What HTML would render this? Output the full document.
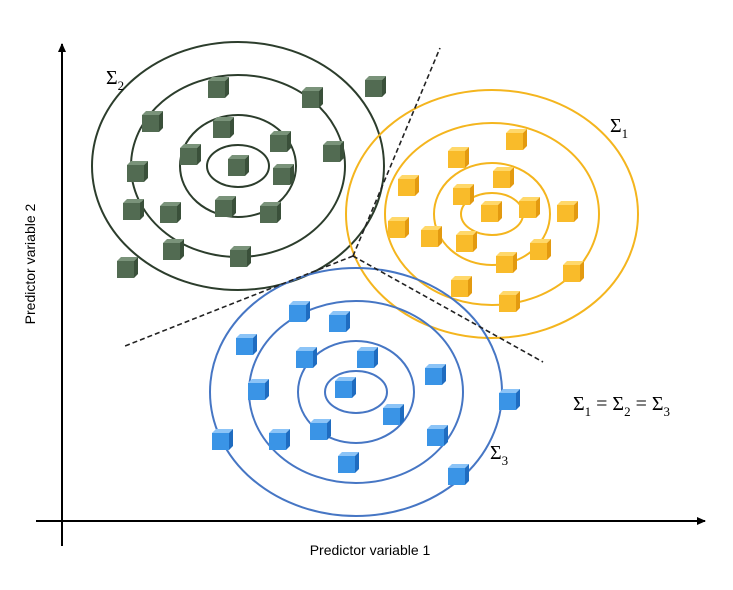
<!DOCTYPE html>
<html><head><meta charset="utf-8"><style>
body{margin:0;background:#fff;width:733px;height:590px;overflow:hidden}
svg{display:block}
text{font-family:"Liberation Serif",serif}
</style></head><body>
<svg id="chart" width="733" height="590" viewBox="0 0 733 590">
<defs>
<marker id="arr" markerWidth="10" markerHeight="10" refX="8" refY="5" orient="auto" markerUnits="userSpaceOnUse"><path d="M0,1 L9,5 L0,9 Z" fill="#000"/></marker>
</defs>
<g id="rings"></g>
<g stroke="#222" stroke-width="1.6" stroke-dasharray="5,3" fill="none">
<line x1="353" y1="256" x2="440" y2="48"/>
<line x1="353" y1="256" x2="125" y2="346"/>
<line x1="353" y1="256" x2="543" y2="362"/>
</g>
<g id="cubes"></g>
<line x1="62" y1="546" x2="62" y2="44" stroke="#000" stroke-width="2" marker-end="url(#arr)"/>
<line x1="36" y1="521" x2="705" y2="521" stroke="#000" stroke-width="2" marker-end="url(#arr)"/>
<text x="370" y="555" text-anchor="middle" font-size="14" style="font-family:'Liberation Sans',sans-serif">Predictor variable 1</text>
<text transform="translate(35,264) rotate(-90)" text-anchor="middle" font-size="14" style="font-family:'Liberation Sans',sans-serif">Predictor variable 2</text>
<text x="106" y="84" font-size="20">Σ<tspan font-size="13" dy="6">2</tspan></text>
<text x="610" y="132" font-size="20">Σ<tspan font-size="13" dy="6">1</tspan></text>
<text x="490" y="459" font-size="20">Σ<tspan font-size="13" dy="6">3</tspan></text>
<text x="573" y="410" font-size="20">Σ<tspan font-size="13" dy="6">1</tspan><tspan dy="-6"> = Σ</tspan><tspan font-size="13" dy="6">2</tspan><tspan dy="-6"> = Σ</tspan><tspan font-size="13" dy="6">3</tspan></text>
</svg>
<script>
const clusterNames=["sigma-2","sigma-1","sigma-3"];
const clusterCenters=[[238,166],[492,214],[356,392]];
const ringRadii=[[31,21],[58,51],[107,91],[146,124]];
const ringColors=["#2c3d2c","#f4b51e","#4676c4"];
const greenPts=[[218,88],[312,98],[375,87],[152,122],[223,128],[280,142],[333,152],[190,155],[238,166],[283,175],[137,172],[133,210],[170,213],[225,207],[270,213],[173,250],[240,257],[127,268]];
const yellowPts=[[516,140],[458,158],[408,186],[463,195],[503,178],[398,228],[431,237],[491,212],[529,208],[567,212],[466,242],[506,263],[540,250],[573,272],[461,287],[509,302]];
const bluePts=[[299,312],[339,322],[246,345],[306,358],[367,358],[435,375],[345,388],[258,390],[393,415],[320,430],[279,440],[437,436],[222,440],[509,400],[348,463],[458,475]];
const pointSets=[greenPts,yellowPts,bluePts];
const cubeColors=[["#7a937a","#526b52","#3a503a"],["#ffd86a","#f9bb2a","#e39a10"],["#8cc4f7","#3a94e6","#1f6cc0"]];
const NS="http://www.w3.org/2000/svg";
const rings=document.getElementById('rings'),cubes=document.getElementById('cubes');
clusterCenters.forEach((c,i)=>{
  ringRadii.forEach((r,j)=>{
    const e=document.createElementNS(NS,'ellipse');
    e.setAttribute('cx',c[0]);e.setAttribute('cy',c[1]);e.setAttribute('rx',r[0]);e.setAttribute('ry',r[1]);
    e.setAttribute('fill','none');e.setAttribute('stroke',ringColors[i]);e.setAttribute('stroke-width','2');
    
    
    rings.appendChild(e);
  });
  pointSets[i].forEach((p,k)=>{
    const g=document.createElementNS(NS,'g');
    
    
    const s=17,d=4,x=p[0]-10,y=p[1]-7,col=cubeColors[i];
    g.innerHTML='<polygon points="'+x+','+y+' '+(x+d)+','+(y-d)+' '+(x+s+d)+','+(y-d)+' '+(x+s)+','+y+'" fill="'+col[0]+'"/>'+
      '<polygon points="'+(x+s)+','+y+' '+(x+s+d)+','+(y-d)+' '+(x+s+d)+','+(y+s-d)+' '+(x+s)+','+(y+s)+'" fill="'+col[2]+'"/>'+
      '<rect x="'+x+'" y="'+y+'" width="'+s+'" height="'+s+'" fill="'+col[1]+'"/>';
    cubes.appendChild(g);
  });
});
</script>
</body></html>
